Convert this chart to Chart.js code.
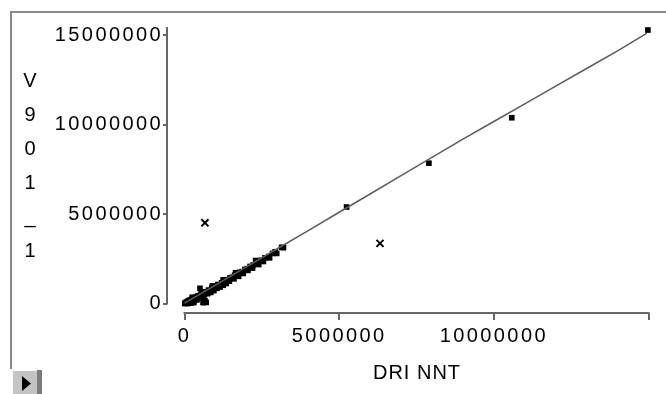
<!DOCTYPE html>
<html>
<head>
<meta charset="utf-8">
<script src="https://cdn.jsdelivr.net/npm/chart.js@4/dist/chart.umd.min.js"></script>
<style>
  html, body { margin: 0; padding: 0; background: #fff; }
  canvas { display: block; }
</style>
</head>
<body>
<canvas id="plot" width="666" height="394"></canvas>
<script>
// axis ticks and titles
const xTicks = [0, 5000000, 10000000, 15000000];
const yTicks = [0, 5000000, 10000000, 15000000];
const xTitle = 'DRI NNT';
const yTitle = ['V', '9', '0', '1', '_', '1'];

// observations (millions)
const obsX = [0.01, 0.03, 0.05, 0.07, 0.09, 0.11, 0.13, 0.15, 0.17, 0.19, 0.21, 0.24, 0.26, 0.29, 0.31,
  0.34, 0.36, 0.39, 0.41, 0.44, 0.50, 0.48, 0.52, 0.56, 0.60, 0.64, 0.68, 0.70, 0.66, 0.73, 0.78, 0.83,
  0.88, 0.93, 0.98, 1.03, 1.08, 1.14, 1.20, 1.26, 1.32, 1.40, 1.47, 1.55, 1.62, 1.70, 1.78, 1.86, 1.95,
  2.03, 2.12, 2.22, 2.35, 2.48, 2.60, 2.72, 2.85, 2.93, 3.14, 5.24, 7.90, 10.58, 14.98,
  0.20, 0.30, 0.40, 0.55, 0.62, 0.75, 0.85, 0.95, 1.05, 1.15, 1.25, 1.35, 1.45, 1.60, 1.75, 1.90,
  2.05, 2.20, 2.40, 2.55, 2.75, 2.98, 0.25, 0.55, 0.90, 1.25, 1.65, 2.30, 3.20, 0.60, 0.10, 0.30];
const obsY = [0.00, 0.05, 0.02, 0.09, 0.04, 0.13, 0.07, 0.17, 0.10, 0.20, 0.14, 0.25, 0.18, 0.30, 0.22,
  0.33, 0.27, 0.38, 0.31, 0.43, 0.85, 0.37, 0.50, 0.44, 0.58, 0.52, 0.66, 0.06, 0.16, 0.62, 0.75, 0.72,
  0.86, 0.82, 0.96, 0.93, 1.06, 1.03, 1.16, 1.14, 1.28, 1.33, 1.43, 1.47, 1.58, 1.62, 1.74, 1.78, 1.90,
  1.95, 2.07, 2.15, 2.30, 2.42, 2.55, 2.62, 2.80, 2.89, 3.14, 5.39, 7.84, 10.38, 15.28,
  0.02, 0.12, 0.20, 0.30, 0.40, 0.55, 0.62, 0.72, 0.85, 0.92, 1.02, 1.12, 1.25, 1.38, 1.52, 1.68,
  1.85, 1.98, 2.18, 2.35, 2.55, 2.80, 0.35, 0.62, 0.98, 1.32, 1.72, 2.40, 3.12, 0.05, 0.00, 0.05];

// excluded points (millions)
const outX = [0.66, 6.32];
const outY = [4.51, 3.36];

// fitted line (millions)
const fitX = [0, 1, 2, 3, 4, 5, 6, 7, 8, 9, 10, 11, 12, 13, 14, 14.94];
const fitY = [0.02, 1.03, 2.05, 3.06, 4.07, 5.10, 6.12, 7.14, 8.16, 9.18, 10.17, 11.16, 12.15, 13.13, 14.12, 15.09];

const toPts = (xs, ys) => xs.map((x, i) => ({ x: x * 1e6, y: ys[i] * 1e6 }));

const FONT = 'Liberation Sans, Arial, sans-serif';
const AXIS = '#666';

const decor = {
  id: 'decor',
  beforeDraw(chart) {
    chart.ctx.letterSpacing = '2.4px';
  },
  afterDraw(chart) {
    const ctx = chart.ctx;
    const xs = chart.scales.x, ys = chart.scales.y;
    const area = chart.chartArea;
    ctx.save();
    ctx.letterSpacing = '0px';

    // outer frame
    ctx.strokeStyle = '#8a8a8a';
    ctx.lineWidth = 2;
    ctx.beginPath();
    ctx.moveTo(11, 369);
    ctx.lineTo(11, 12);
    ctx.lineTo(666, 12);
    ctx.stroke();

    // detached axis lines
    ctx.strokeStyle = AXIS;
    ctx.lineWidth = 2;
    ctx.beginPath();
    ctx.moveTo(area.left, area.top);
    ctx.lineTo(area.left, ys.getPixelForValue(0) + 1);
    ctx.moveTo(xs.getPixelForValue(0) - 1, area.bottom);
    ctx.lineTo(xs.getPixelForValue(15000000) + 1, area.bottom);
    ctx.stroke();

    // titles
    ctx.fillStyle = '#000';
    ctx.font = '20px ' + FONT;
    ctx.textAlign = 'center';
    ctx.textBaseline = 'middle';
    ctx.letterSpacing = '1px';
    ctx.fillText(xTitle, 417, 373);
    ctx.letterSpacing = '0px';
    yTitle.forEach((ch, i) => ctx.fillText(ch, 30, 81 + i * 34));

    // small toggle button
    ctx.fillStyle = '#c4c4c4';
    ctx.fillRect(13, 370, 29, 24);
    ctx.fillStyle = '#7c7c7c';
    ctx.fillRect(37, 370, 5, 24);
    ctx.fillStyle = '#fff';
    ctx.fillRect(13, 370, 24, 1);
    ctx.fillStyle = '#000';
    ctx.beginPath();
    ctx.moveTo(22, 376);
    ctx.lineTo(22, 391);
    ctx.lineTo(31, 383.5);
    ctx.closePath();
    ctx.fill();
    ctx.restore();
  }
};

new Chart(document.getElementById('plot'), {
  type: 'scatter',
  data: {
    datasets: [
      { type: 'line', data: toPts(fitX, fitY), borderColor: '#5c5c5c', borderWidth: 1.5,
        pointRadius: 0, tension: 0, fill: false },
      { data: toPts(obsX, obsY), pointStyle: 'rect', pointRadius: 4,
        backgroundColor: '#000', borderColor: '#000', borderWidth: 0 },
      { data: toPts(outX, outY), pointStyle: 'crossRot', pointRadius: 5,
        borderColor: '#000', borderWidth: 2 }
    ]
  },
  options: {
    responsive: false,
    animation: false,
    events: [],
    clip: false,
    layout: { padding: { left: 0, top: 27, right: 11, bottom: 0 } },
    plugins: { legend: { display: false }, tooltip: { enabled: false } },
    scales: {
      x: {
        type: 'linear',
        min: -566000,
        max: 15210000,
        border: { display: false },
        grid: { drawOnChartArea: false, tickLength: 7, color: AXIS, lineWidth: 2 },
        ticks: {
          color: '#000', font: { family: FONT, size: 20 }, padding: 4,
          maxRotation: 0, minRotation: 0, autoSkip: false,
          callback: v => v === 15000000 ? '' : String(v)
        },
        afterBuildTicks: s => { s.ticks = xTicks.map(v => ({ value: v })); },
        afterFit: s => { s.height = 81; }
      },
      y: {
        type: 'linear',
        min: -530000,
        max: 15450000,
        border: { display: false },
        grid: { drawOnChartArea: false, tickLength: 4, color: AXIS, lineWidth: 2 },
        ticks: {
          color: '#000', font: { family: FONT, size: 20 }, padding: 0,
          autoSkip: false, callback: v => String(v)
        },
        afterBuildTicks: s => { s.ticks = yTicks.map(v => ({ value: v })); },
        afterFit: s => { s.width = 167; }
      }
    }
  },
  plugins: [decor]
});
</script>
</body>
</html>
